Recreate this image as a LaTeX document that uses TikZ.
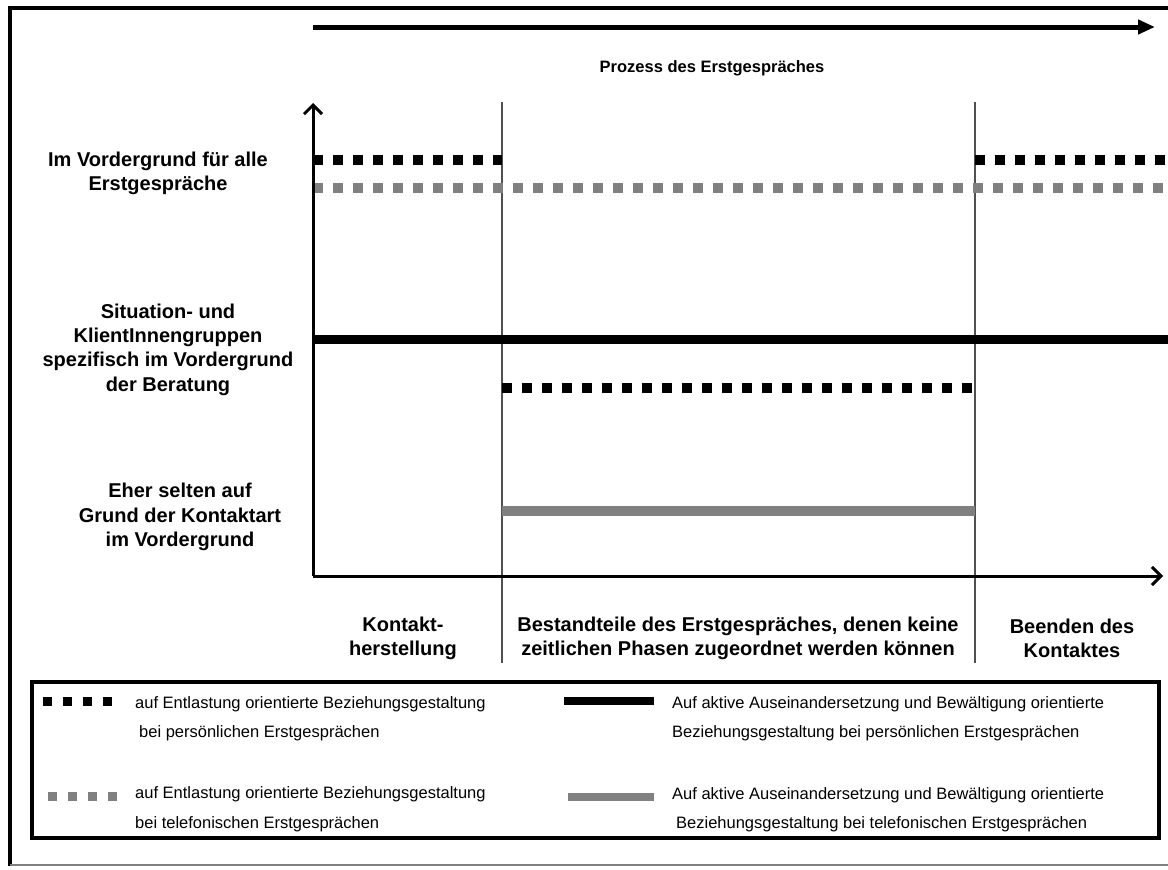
\documentclass[tikz,border=0pt]{standalone}
\usepackage{fontspec}
\setmainfont{Liberation Sans}
\usetikzlibrary{arrows.meta}
\definecolor{midgray}{HTML}{808080}
\definecolor{rulegray}{HTML}{505050}
\begin{document}
\begin{tikzpicture}[x=1pt,y=-1pt,
  lbl/.style={font=\fontsize{20}{24.4}\selectfont\bfseries, align=center, inner sep=0pt},
  leg/.style={font=\fontsize{16.5}{19}\selectfont, anchor=base west, inner sep=0pt},
  sqdots/.style={line width=10pt, dash pattern=on 10pt off 10pt},
  legdots/.style={line width=9pt, dash pattern=on 9pt off 11pt},
  axis/.style={line width=3pt, -{Straight Barb[length=9pt,width=18pt,line width=3pt]}},
  phase/.style={draw=rulegray, line width=1.3pt},
]
\useasboundingbox (0,0) rectangle (1168,870);
\fill[white] (0,0) rectangle (1168,870);

% outer frame
\draw[line width=4pt] (1180,8) -- (10,8) -- (10,866);
\draw[midgray, line width=1.5pt] (10,865) -- (1180,865);

% time arrow and its caption
\coordinate (pstart) at (313,27);
\coordinate (pend) at (1155,27);
\draw[line width=5pt, -{Triangle[length=17pt,width=14pt]}] (pstart) -- (pend);
\node[lbl, font=\fontsize{16.5}{20}\selectfont\bfseries] (title) at (712,68) {Prozess des Erstgespräches};

% phase separators
\coordinate (s1t) at (502,102); \coordinate (s1b) at (502,663);
\coordinate (s2t) at (975,102); \coordinate (s2b) at (975,663);
\draw[phase] (s1t) -- (s1b);
\draw[phase] (s2t) -- (s2b);

% relationship lines
\coordinate (a1) at (313,160); \coordinate (a2) at (502,160);
\coordinate (a3) at (975,160); \coordinate (a4) at (1168,160);
\draw[sqdots] (a1) -- (a2);
\draw[sqdots] (a3) -- (a4);
\coordinate (b1) at (313,188); \coordinate (b2) at (1168,188);
\draw[sqdots, midgray] (b1) -- (b2);
\coordinate (c1) at (313,339); \coordinate (c2) at (1168,339);
\draw[line width=9pt] (c1) -- (c2);
\coordinate (d1) at (502,388); \coordinate (d2) at (975,388);
\draw[sqdots] (d1) -- (d2);
\coordinate (e1) at (502,511); \coordinate (e2) at (975,511);
\draw[line width=10pt, midgray] (e1) -- (e2);

% axes
\coordinate (O) at (313,576);
\coordinate (ytip) at (313,103);
\coordinate (xtip) at (1163,576);
\draw[axis] (O) -- (ytip);
\draw[axis] (O) -- (xtip);

% row labels
\node[lbl] (r1) at (158,173.5) {Im Vordergrund für alle\\Erstgespräche};
\node[lbl] (r2) at (168,349.5) {Situation- und\\KlientInnengruppen\\spezifisch im Vordergrund\\der Beratung};
\node[lbl] (r3) at (180,517) {Eher selten auf\\Grund der Kontaktart\\im Vordergrund};

% phase labels
\node[lbl] (ph1) at (403,638.5) {Kontakt-\\herstellung};
\node[lbl] (ph2) at (738,638.5) {Bestandteile des Erstgespräches, denen keine\\zeitlichen Phasen zugeordnet werden können};
\node[lbl] (ph3) at (1072,638.5) {Beenden des\\Kontaktes};

% legend
\draw[line width=3.5pt] (32,682) rectangle (1159,838);
\coordinate (l1a) at (43,701); \coordinate (l1b) at (112,701);
\draw[legdots] (l1a) -- (l1b);
\coordinate (l2a) at (48,796); \coordinate (l2b) at (117,796);
\draw[legdots, midgray] (l2a) -- (l2b);
\coordinate (l3a) at (564,701); \coordinate (l3b) at (654,701);
\draw[line width=8pt] (l3a) -- (l3b);
\coordinate (l4a) at (568,797); \coordinate (l4b) at (654,797);
\draw[line width=8pt, midgray] (l4a) -- (l4b);

\node[leg] (t1) at (135,708) {auf Entlastung orientierte Beziehungsgestaltung};
\node[leg] (t2) at (139,737) {bei persönlichen Erstgesprächen};
\node[leg] (t3) at (135,798) {auf Entlastung orientierte Beziehungsgestaltung};
\node[leg] (t4) at (135,828) {bei telefonischen Erstgesprächen};
\node[leg] (t5) at (672,708) {Auf aktive Auseinandersetzung und Bewältigung orientierte};
\node[leg] (t6) at (672,737) {Beziehungsgestaltung bei persönlichen Erstgesprächen};
\node[leg] (t7) at (672,799) {Auf aktive Auseinandersetzung und Bewältigung orientierte};
\node[leg] (t8) at (676,828) {Beziehungsgestaltung bei telefonischen Erstgesprächen};
\end{tikzpicture}
\end{document}
